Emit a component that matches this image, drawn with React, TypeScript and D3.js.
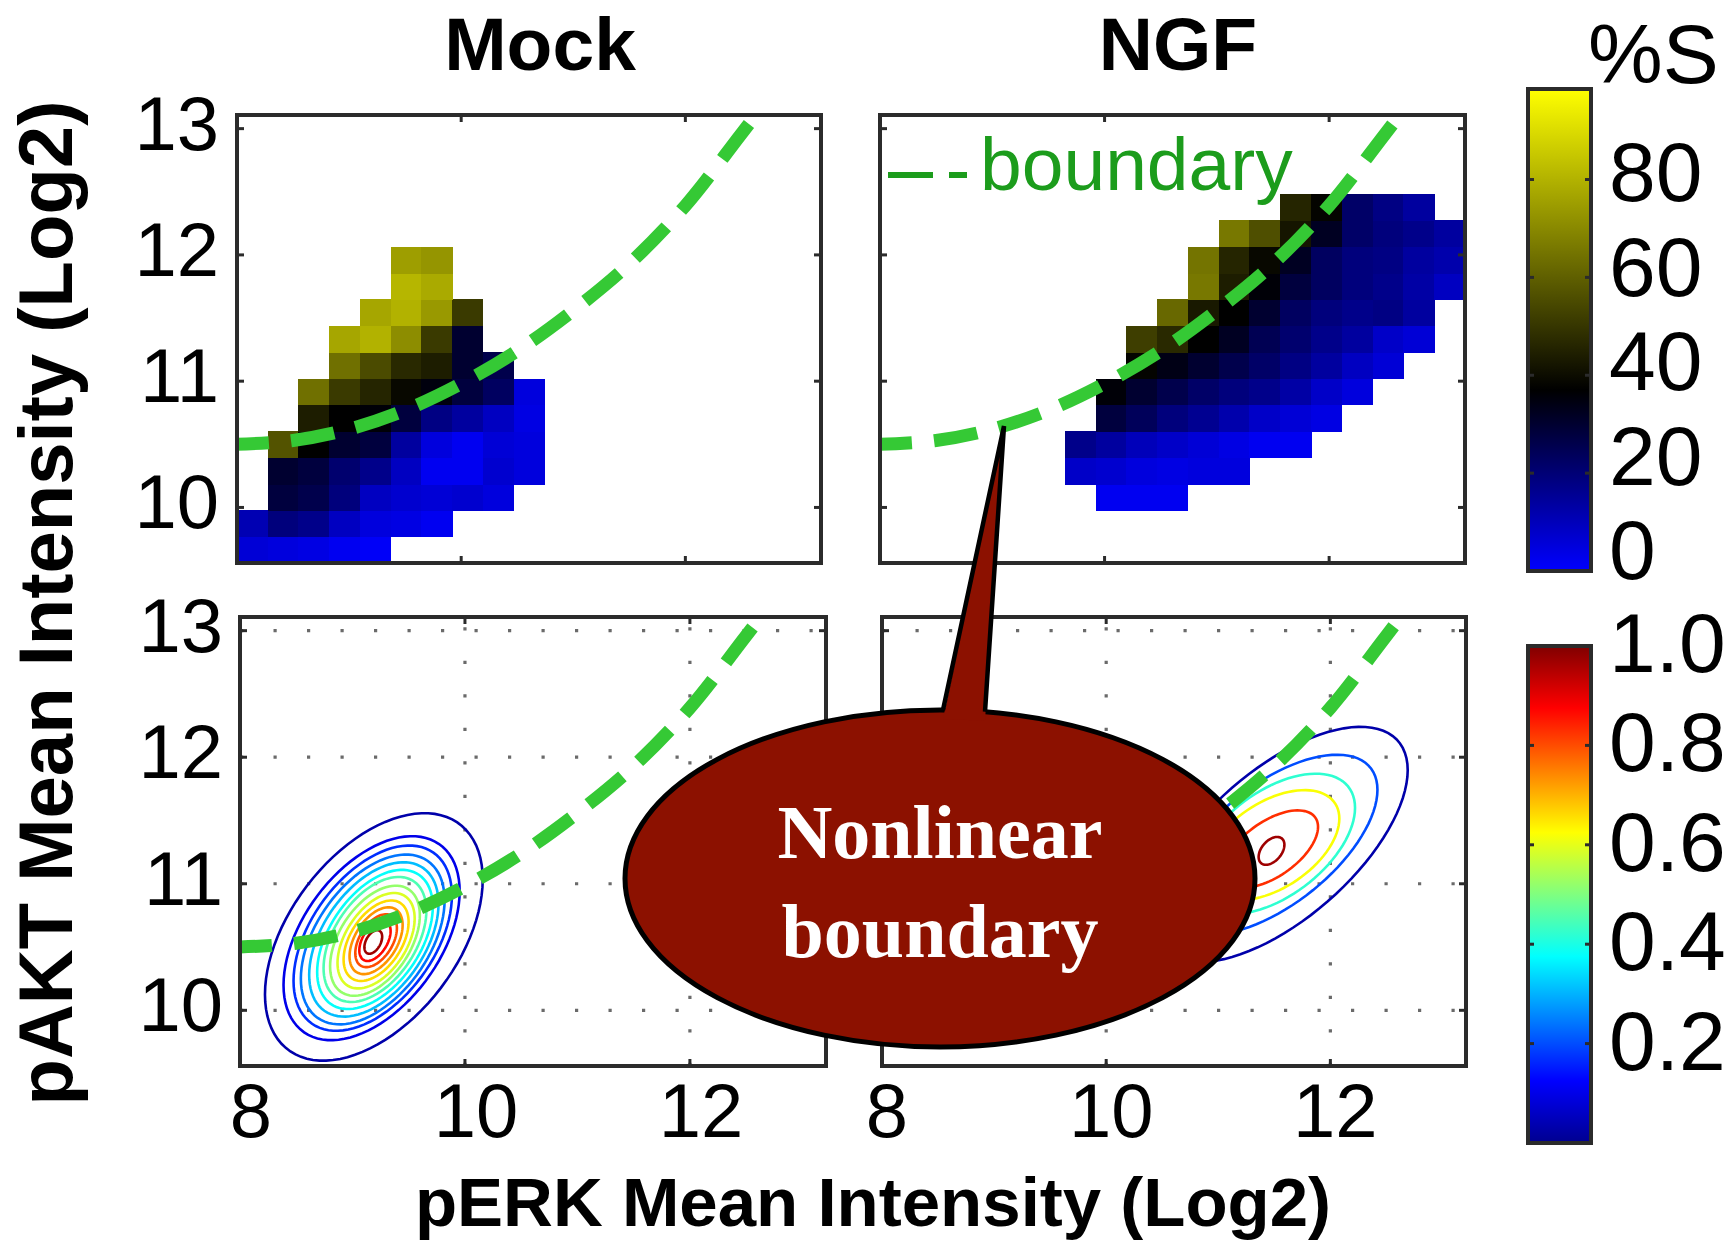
import React from "react";
import * as d3 from "d3";

const W = 1733;
const H = 1241;

// ---- axes ----
const xDomain: [number, number] = [8, 13.21];
const yDomain: [number, number] = [9.56, 13.108];
const xTickValues = [8, 10, 12];
const yTickValues = [10, 11, 12, 13];
const gridXValues = [10, 12];
const binsX = 19;
const binsY = 17;

const titles = ["Mock", "NGF"];
const xAxisLabel = "pERK Mean Intensity (Log2)";
const yAxisLabel = "pAKT Mean Intensity (Log2)";
const legendLabel = "boundary";
const calloutLines = ["Nonlinear", "boundary"];
const sBarTitle = "%S";

// ---- %S heat maps: row index (from bottom), first column, values ----
const mockRowIndex = [0, 1, 2, 3, 4, 5, 6, 7, 8, 9, 10, 11];
const mockRowStart = [0, 0, 1, 1, 1, 2, 2, 3, 3, 4, 5, 5];
const mockRowValues = [
  [6, 5, 4, 2, 1],
  [11, 19, 17, 9, 5, 4, 2],
  [28, 26, 19, 9, 7, 6, 7, 5],
  [30, 28, 21, 17, 9, 2, 2, 7, 5],
  [57, 37, 30, 28, 14, 5, 2, 6, 5],
  [44, 37, 36, 28, 18, 14, 9, 4],
  [64, 51, 46, 39, 35, 28, 23, 5],
  [64, 55, 47, 44, 30, 26],
  [77, 80, 71, 51, 30],
  [77, 80, 74, 51],
  [81, 78],
  [75, 73],
];

const ngfRowIndex = [2, 3, 4, 5, 6, 7, 8, 9, 10, 11, 12, 13];
const ngfRowStart = [7, 6, 6, 7, 7, 8, 8, 9, 10, 10, 11, 13];
const ngfRowValues = [
  [2, 2, 2],
  [8, 7, 5, 4, 5, 5],
  [17, 14, 10, 8, 6, 4, 2, 2],
  [28, 24, 19, 16, 12, 8, 6, 4],
  [36, 30, 26, 22, 19, 17, 13, 8, 5],
  [38, 34, 30, 26, 22, 18, 14, 9, 6],
  [52, 47, 37, 32, 25, 21, 17, 14, 8, 6],
  [62, 43, 37, 30, 23, 19, 17, 18, 14],
  [66, 44, 36, 28, 23, 19, 17, 13, 9],
  [65, 46, 39, 32, 23, 19, 18, 14, 12],
  [66, 56, 42, 32, 22, 19, 17, 14],
  [46, 38, 22, 18, 14],
];

// ---- boundary curve ----
const boundaryX = [8.0, 8.5, 9.0, 9.5, 10.0, 10.5, 11.0, 11.5, 12.0, 12.5, 12.9];
const boundaryY = [10.5, 10.53, 10.62, 10.77, 10.98, 11.24, 11.56, 11.93, 12.39, 12.96, 13.42];

// ---- density contours (center, half x-extent, half y-extent, x-offset of top point) ----
const mockLevels = [0.03, 0.1, 0.17, 0.24, 0.31, 0.38, 0.45, 0.52, 0.59, 0.66, 0.73, 0.8, 0.87, 0.97];
const mockCx = [9.19, 9.17, 9.18, 9.18, 9.19, 9.2, 9.2, 9.2, 9.21, 9.21, 9.21, 9.21, 9.2, 9.185];
const mockCy = [10.58, 10.57, 10.57, 10.56, 10.56, 10.56, 10.56, 10.55, 10.55, 10.55, 10.55, 10.55, 10.55, 10.54];
const mockWx = [0.968, 0.783, 0.704, 0.639, 0.575, 0.514, 0.457, 0.399, 0.343, 0.289, 0.236, 0.185, 0.139, 0.079];
const mockWy = [0.978, 0.806, 0.732, 0.671, 0.61, 0.55, 0.494, 0.435, 0.377, 0.318, 0.264, 0.209, 0.16, 0.093];
const mockTx = [0.45, 0.36, 0.325, 0.295, 0.265, 0.24, 0.21, 0.185, 0.16, 0.135, 0.11, 0.087, 0.066, 0.035];

const ngfLevels = [0.03, 0.2, 0.42, 0.62, 0.83, 0.97];
const ngfCx = [11.55, 11.5, 11.5, 11.48, 11.47, 11.475];
const ngfCy = [11.31, 11.31, 11.315, 11.305, 11.275, 11.26];
const ngfWx = [1.14, 0.92, 0.72, 0.6, 0.42, 0.115];
const ngfWy = [0.93, 0.71, 0.555, 0.435, 0.305, 0.11];
const ngfTx = [0.72, 0.56, 0.37, 0.29, 0.24, 0.05];

// ---- colour bars ----
const sMax = 98.5;
const sStops = [0, 37, sMax];
const sColors = ["#0000ff", "#000000", "#ffff00"];
const sTickValues = [20, 40, 60, 80];
const sLabelValues = [0, 20, 40, 60, 80];

const jetStops = [0, 0.125, 0.375, 0.625, 0.875, 1];
const jetColors = ["#00008f", "#0000ff", "#00ffff", "#ffff00", "#ff0000", "#800000"];
const densTickValues = [0.2, 0.4, 0.6, 0.8];
const densLabelValues = [0.2, 0.4, 0.6, 0.8, 1.0];

type Panel = { key: string; x0: number; x1: number; y0: number; y1: number };
const panels: Panel[] = [
  { key: "tl", x0: 237, x1: 821, y0: 115, y1: 563 },
  { key: "tr", x0: 880, x1: 1465, y0: 115, y1: 563 },
  { key: "bl", x0: 240, x1: 826, y0: 617, y1: 1066 },
  { key: "br", x0: 882, x1: 1466, y0: 617, y1: 1066 },
];

const SANS = "'Liberation Sans', Arial, Helvetica, sans-serif";
const SERIF = "'Liberation Serif', 'Times New Roman', serif";
const BORDER = "#2b2b2b";
const CURVE_GREEN = "#35c935";
const LEGEND_GREEN = "#1c9c1c";

function ellipsePts(cx: number, cy: number, wx: number, wy: number, tx: number, n = 90) {
  const l11 = wx;
  const l21 = (tx * wy) / wx;
  const l22 = Math.sqrt(Math.max(wy * wy - l21 * l21, 1e-6));
  return d3.range(n).map((i) => {
    const t = (2 * Math.PI * i) / n;
    return [cx + l11 * Math.cos(t), cy + l21 * Math.cos(t) + l22 * Math.sin(t)] as [number, number];
  });
}

export default function App() {
  const sColor = d3.scaleLinear<string>().domain(sStops).range(sColors).interpolate(d3.interpolateRgb);
  const jet = d3.scaleLinear<string>().domain(jetStops).range(jetColors).interpolate(d3.interpolateRgb);
  const binW = (xDomain[1] - xDomain[0]) / binsX;
  const binH = (yDomain[1] - yDomain[0]) / binsY;

  const scalesFor = (p: Panel) => ({
    xs: d3.scaleLinear().domain(xDomain).range([p.x0, p.x1]),
    ys: d3.scaleLinear().domain(yDomain).range([p.y1, p.y0]),
  });

  const boundaryPts = boundaryX.map((x, i) => [x, boundaryY[i]] as [number, number]);

  const heat = (p: Panel, rowIdx: number[], rowStart: number[], rowVals: number[][]) => {
    const { xs, ys } = scalesFor(p);
    const cells: any[] = [];
    rowIdx.forEach((r, ri) => {
      rowVals[ri].forEach((v, ci) => {
        const c = rowStart[ri] + ci;
        const xa = xDomain[0] + c * binW;
        const ya = yDomain[0] + r * binH;
        const px = xs(xa);
        const py = ys(ya + binH);
        cells.push(
          <rect
            key={`${p.key}-${r}-${c}`}
            x={px}
            y={py}
            width={xs(xa + binW) - px + 0.6}
            height={ys(ya) - py + 0.6}
            fill={sColor(v)}
            shapeRendering="crispEdges"
          />
        );
      });
    });
    return cells;
  };

  const contours = (
    p: Panel,
    levels: number[],
    cx: number[],
    cy: number[],
    wx: number[],
    wy: number[],
    tx: number[]
  ) => {
    const { xs, ys } = scalesFor(p);
    const line = d3
      .line<[number, number]>()
      .x((d) => xs(d[0]))
      .y((d) => ys(d[1]))
      .curve(d3.curveLinearClosed);
    return levels.map((lv, i) => (
      <path
        key={`${p.key}-c${i}`}
        d={line(ellipsePts(cx[i], cy[i], wx[i], wy[i], tx[i])) || ""}
        fill="none"
        stroke={jet(lv)}
        strokeWidth={2.6}
      />
    ));
  };

  const frame = (p: Panel, withGrid: boolean, xLabelDx: number, yLabelEnd: number) => {
    const { xs, ys } = scalesFor(p);
    const boundaryLine = d3
      .line<[number, number]>()
      .x((d) => xs(d[0]))
      .y((d) => ys(d[1]))
      .curve(d3.curveCatmullRom);
    return {
      grid: withGrid ? (
        <g key={`${p.key}-grid`} stroke="#6a6a6a" strokeWidth={3.2} strokeDasharray="3.2 30.3">
          {gridXValues.map((v) => (
            <line key={`gx${v}`} x1={xs(v)} x2={xs(v)} y1={p.y1} y2={p.y0} />
          ))}
          {yTickValues.map((v) => (
            <line key={`gy${v}`} x1={p.x0} x2={p.x1} y1={ys(v)} y2={ys(v)} />
          ))}
        </g>
      ) : null,
      boundary: (
        <path
          key={`${p.key}-bd`}
          d={boundaryLine(boundaryPts) || ""}
          fill="none"
          stroke={CURVE_GREEN}
          strokeWidth={13}
          strokeDasharray="44 22"
          strokeDashoffset={12}
          clipPath={`url(#clip-${p.key})`}
        />
      ),
      box: (
        <g key={`${p.key}-box`}>
          <rect x={p.x0} y={p.y0} width={p.x1 - p.x0} height={p.y1 - p.y0} fill="none" stroke={BORDER} strokeWidth={4} />
          {xTickValues.map((v) => (
            <g key={`xt${v}`} stroke={BORDER} strokeWidth={3}>
              <line x1={xs(v)} x2={xs(v)} y1={p.y1} y2={p.y1 - 7} />
              <line x1={xs(v)} x2={xs(v)} y1={p.y0} y2={p.y0 + 7} />
            </g>
          ))}
          {yTickValues.map((v) => (
            <g key={`yt${v}`} stroke={BORDER} strokeWidth={3}>
              <line x1={p.x0} x2={p.x0 + 7} y1={ys(v)} y2={ys(v)} />
              <line x1={p.x1} x2={p.x1 - 7} y1={ys(v)} y2={ys(v)} />
            </g>
          ))}
          {yLabelEnd > 0 &&
            yTickValues.map((v) => (
              <text key={`yl${v}`} x={yLabelEnd} y={ys(v) + 21} textAnchor="end" fontSize={76} fill="#000" fontFamily={SANS}>
                {v}
              </text>
            ))}
          {xLabelDx !== 0 &&
            xTickValues.map((v) => (
              <text key={`xl${v}`} x={xs(v) + xLabelDx} y={1137} textAnchor="middle" fontSize={76} fill="#000" fontFamily={SANS}>
                {v}
              </text>
            ))}
        </g>
      ),
    };
  };

  const [tl, tr, bl, br] = panels;
  const fTL = frame(tl, false, 0, 219);
  const fTR = frame(tr, false, 0, 0);
  const fBL = frame(bl, true, 11, 223);
  const fBR = frame(br, true, 5, 0);

  // colour bars
  const cb1 = { x0: 1528, x1: 1591, y0: 89, y1: 571 };
  const cb2 = { x0: 1528, x1: 1591, y0: 646, y1: 1143 };
  const sBarScale = d3.scaleLinear().domain([0, sMax]).range([cb1.y1, cb1.y0]);
  const sLabelScale = d3.scaleLinear().domain([0, 80]).range([549, 171]);
  const densScale = d3.scaleLinear().domain([0, 1]).range([cb2.y1, cb2.y0]);

  // callout
  const call = { cx: 940, cy: 878.5, rx: 315, ry: 168.5 };
  const tip = { x: 1004, y: 426 };
  const baseL = 943;
  const baseR = 985;
  const ellY = (x: number) => call.cy - call.ry * Math.sqrt(1 - ((x - call.cx) / call.rx) ** 2);

  return (
    <svg
      width={W}
      height={H}
      viewBox={`0 0 ${W} ${H}`}
      style={{ position: "absolute", left: 0, top: 0, background: "#fff" }}
      fontFamily={SANS}
    >
      <defs>
        {panels.map((p) => (
          <clipPath id={`clip-${p.key}`} key={p.key}>
            <rect x={p.x0} y={p.y0} width={p.x1 - p.x0} height={p.y1 - p.y0} />
          </clipPath>
        ))}
        <linearGradient id="grad-s" x1="0" y1="1" x2="0" y2="0">
          {sStops.map((s, i) => (
            <stop key={i} offset={s / sMax} stopColor={sColors[i]} />
          ))}
        </linearGradient>
        <linearGradient id="grad-jet" x1="0" y1="1" x2="0" y2="0">
          {jetStops.map((s, i) => (
            <stop key={i} offset={s} stopColor={jetColors[i]} />
          ))}
        </linearGradient>
      </defs>
      <rect x={0} y={0} width={W} height={H} fill="#fff" />

      {/* titles */}
      <text x={540} y={70} textAnchor="middle" fontSize={75} fontWeight="bold">
        {titles[0]}
      </text>
      <text x={1178} y={70} textAnchor="middle" fontSize={75} fontWeight="bold">
        {titles[1]}
      </text>

      {/* heat maps */}
      <g clipPath="url(#clip-tl)">{heat(tl, mockRowIndex, mockRowStart, mockRowValues)}</g>
      <g clipPath="url(#clip-tr)">{heat(tr, ngfRowIndex, ngfRowStart, ngfRowValues)}</g>

      {/* grids + contours */}
      {fBL.grid}
      {fBR.grid}
      <g clipPath="url(#clip-bl)">{contours(bl, mockLevels, mockCx, mockCy, mockWx, mockWy, mockTx)}</g>
      <g clipPath="url(#clip-br)">{contours(br, ngfLevels, ngfCx, ngfCy, ngfWx, ngfWy, ngfTx)}</g>

      {/* boundaries */}
      {fTL.boundary}
      {fTR.boundary}
      {fBL.boundary}
      {fBR.boundary}

      {/* legend */}
      <line x1={888} x2={967} y1={175} y2={175} stroke={LEGEND_GREEN} strokeWidth={6} strokeDasharray="45 16" />
      <text x={980} y={190} fontSize={75} fill={LEGEND_GREEN}>
        {legendLabel}
      </text>

      {/* frames */}
      {fTL.box}
      {fTR.box}
      {fBL.box}
      {fBR.box}

      {/* axis labels */}
      <text x={873} y={1226} textAnchor="middle" fontSize={69} fontWeight="bold">
        {xAxisLabel}
      </text>
      <text transform="translate(72,603) rotate(-90)" textAnchor="middle" fontSize={76} fontWeight="bold">
        {yAxisLabel}
      </text>

      {/* %S colour bar */}
      <rect x={cb1.x0} y={cb1.y0} width={cb1.x1 - cb1.x0} height={cb1.y1 - cb1.y0} fill="url(#grad-s)" stroke={BORDER} strokeWidth={4} />
      {sTickValues.map((v) => (
        <g key={`st${v}`} stroke={BORDER} strokeWidth={3}>
          <line x1={cb1.x0} x2={cb1.x0 + 6} y1={sBarScale(v)} y2={sBarScale(v)} />
          <line x1={cb1.x1} x2={cb1.x1 - 6} y1={sBarScale(v)} y2={sBarScale(v)} />
        </g>
      ))}
      {sLabelValues.map((v) => (
        <text key={`sl${v}`} x={1609} y={sLabelScale(v) + 30} fontSize={84}>
          {v}
        </text>
      ))}
      <text x={1588} y={83} fontSize={84}>
        {sBarTitle}
      </text>

      {/* density colour bar */}
      <rect x={cb2.x0} y={cb2.y0} width={cb2.x1 - cb2.x0} height={cb2.y1 - cb2.y0} fill="url(#grad-jet)" stroke={BORDER} strokeWidth={4} />
      {densTickValues.map((v) => (
        <g key={`dt${v}`} stroke={BORDER} strokeWidth={3}>
          <line x1={cb2.x0} x2={cb2.x0 + 6} y1={densScale(v)} y2={densScale(v)} />
          <line x1={cb2.x1} x2={cb2.x1 - 6} y1={densScale(v)} y2={densScale(v)} />
        </g>
      ))}
      {densLabelValues.map((v) => (
        <text key={`dl${v}`} x={1609} y={densScale(v) - 4 + 30} fontSize={84}>
          {v.toFixed(1)}
        </text>
      ))}

      {/* callout */}
      <ellipse cx={call.cx} cy={call.cy} rx={call.rx} ry={call.ry} fill="#8c1100" stroke="#000" strokeWidth={5} />
      <path d={`M${baseL},${ellY(baseL) + 9} L${tip.x},${tip.y} L${baseR},${ellY(baseR) + 9} Z`} fill="#8c1100" />
      <path
        d={`M${baseL},${ellY(baseL)} L${tip.x},${tip.y} L${baseR},${ellY(baseR)}`}
        fill="none"
        stroke="#000"
        strokeWidth={4.5}
        strokeLinejoin="miter"
      />
      <text x={call.cx} y={858} textAnchor="middle" fontSize={76} fontWeight="bold" fill="#fff" fontFamily={SERIF}>
        {calloutLines[0]}
      </text>
      <text x={call.cx} y={957} textAnchor="middle" fontSize={76} fontWeight="bold" fill="#fff" fontFamily={SERIF}>
        {calloutLines[1]}
      </text>
    </svg>
  );
}
